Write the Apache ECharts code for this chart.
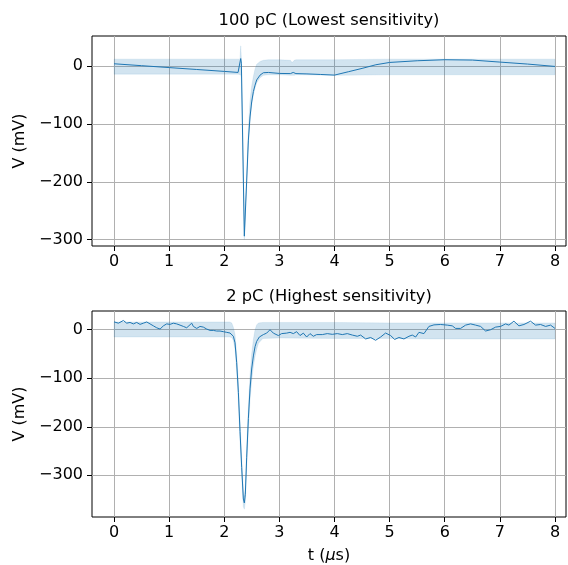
<!DOCTYPE html>
<html>
<head>
<meta charset="utf-8">
<script src="https://cdn.jsdelivr.net/npm/echarts@6/dist/echarts.min.js"></script>
<style>html,body{margin:0;padding:0;background:#fff}#c{width:568px;height:565px}</style>
</head>
<body>
<div id="c"></div>
<script>
// ---- Data ----
const xTicks = [0, 1, 2, 3, 4, 5, 6, 7, 8];
const yTicks = [0, -100, -200, -300];
const titleTop = '100 pC (Lowest sensitivity)';
const titleBot = '2 pC (Highest sensitivity)';

// Top panel (100 pC) trace, t in microseconds, V in mV
const tTop = [0, 0.5, 1, 1.5, 2, 2.25, 2.285, 2.298, 2.31, 2.364, 2.407, 2.437, 2.467, 2.497, 2.528, 2.558, 2.588, 2.649, 2.709, 2.8, 3.0, 3.2, 3.25, 3.3, 3.5, 3.75, 4.0, 4.25, 4.5, 4.75, 5.0, 5.5, 6.0, 6.5, 7.0, 7.5, 8.0];
const vTop = [4, 0.7, -2.6, -5.9, -9.2, -11, -13, 13, 5, -294, -197, -128, -88, -62, -44, -33, -24, -15.6, -11.5, -11, -12.7, -13, -11, -13, -13.5, -14.5, -15.6, -9.8, -4, 2.3, 6.3, 9.2, 11, 10.4, 6.9, 3.5, -0.6];

// Top panel band
const bandTopT = [0, 2.26, 2.285, 2.298, 2.31, 2.33, 2.364, 2.407, 2.437, 2.467, 2.497, 2.528, 2.558, 2.588, 2.649, 2.709, 2.8, 3.0, 3.2, 3.23, 3.27, 3.3, 4.0, 5.0, 6.0, 7.0, 8.0];
const bandTopUp = [12, 12, 12, 35, 14, -85, -288, -185, -110, -60, -35, -18, -5, 3, 8, 10, 11, 11, 10, 6, 10, 11, 11, 12, 12, 12, 12];
const bandTopLo = [-14, -14, -15, -15, -20, -120, -300, -205, -135, -95, -68, -50, -38, -29, -20, -16, -15, -15, -16, -16, -16, -15, -16, -15, -15, -15, -15];

// Bottom panel (2 pC) trace
const tBot = [0.0, 0.079, 0.169, 0.230, 0.290, 0.351, 0.411, 0.472, 0.532, 0.593, 0.653, 0.714, 0.774, 0.835, 0.895, 0.955, 1.016, 1.076, 1.137, 1.197, 1.258, 1.318, 1.409, 1.439, 1.500, 1.560, 1.620, 1.681, 1.742, 1.802, 1.862, 1.923, 1.983, 2.044, 2.104,
  2.135, 2.165, 2.195, 2.225, 2.256, 2.286, 2.316, 2.346, 2.364, 2.382, 2.406, 2.437, 2.467, 2.497, 2.528, 2.558, 2.588, 2.636, 2.709, 2.769, 2.830, 2.890, 2.981, 3.041, 3.132, 3.193, 3.253, 3.313, 3.374, 3.434, 3.495, 3.555, 3.616, 3.676,
  3.779, 3.869, 3.960, 4.051, 4.141, 4.232, 4.323, 4.414, 4.474, 4.565, 4.655, 4.746, 4.837, 4.927, 5.018, 5.091, 5.169, 5.260, 5.351, 5.411, 5.472, 5.532, 5.623, 5.713, 5.804, 5.925, 6.046, 6.137, 6.197, 6.288, 6.378, 6.469, 6.560, 6.651, 6.741, 6.832, 6.923, 7.013, 7.104, 7.164, 7.255, 7.346, 7.437, 7.557, 7.648, 7.739, 7.830, 7.920, 8.0];
const vBot = [16.2, 13.5, 19, 13.5, 15, 12, 15, 11, 13.5, 16, 12, 8, 4, 1.4, 8, 12, 11, 13.5, 12, 9.5, 6.8, 4, 13.5, 6.8, 2.7, 6.8, 5.4, 1.4, -1.4, -1.4, -2.7, -2.7, -4, -5.4, -6.8,
  -9, -13.5, -27, -68, -129, -210, -284, -349, -357, -339, -264, -183, -122, -81, -54, -35, -24, -15, -10, -7, 0, -7, -12, -8, -7, -5.4, -8, -4, -12, -7, -15, -8, -13.5, -10,
  -10, -8, -9.5, -8, -10, -8, -11, -13.5, -11, -19, -16, -21.7, -15, -6.8, -12, -20, -16, -19, -13.5, -11, -15, -5.4, -8, 6.8, 10, 10.8, 9.5, 8, 2.7, 2.7, 9.5, 12, 9.5, 6.8, -2.7, 0, 5.4, 6.8, 12, 9.5, 17.6, 8, 10.8, 17.6, 9.5, 10.8, 6.8, 9.5, 2.7];

// Bottom panel band
const bandBotT = [0, 2.10, 2.135, 2.165, 2.195, 2.225, 2.256, 2.286, 2.316, 2.346, 2.364, 2.382, 2.406, 2.437, 2.467, 2.497, 2.528, 2.558, 2.588, 2.62, 2.7, 3.0, 4.0, 5.0, 5.7, 6.0, 7.0, 8.0];
const bandBotUp = [16, 16, 14, 5, -10, -50, -110, -190, -265, -330, -345, -325, -245, -160, -95, -50, -20, 0, 10, 14, 15, 15, 15, 14, 14, 14, 14, 14];
const bandBotLo = [-15, -15, -16, -22, -40, -85, -150, -230, -300, -365, -370, -355, -285, -205, -145, -105, -75, -55, -40, -28, -18, -17, -18, -18, -19, -19, -19, -19];

// ---- Chart ----
const FONT = 'DejaVu Sans';
const LINE = '#1f77b4';
const FS = 16;
const chart = echarts.init(document.getElementById('c'), null, {renderer: 'canvas'});

const fmt = v => (v < 0 ? '\u2212' + Math.abs(v) : String(v));
const pairs = (T, V) => T.map((t, i) => [t, V[i]]);

function bandSeries(idx, T, U, L) {
  return {
    type: 'custom', xAxisIndex: idx, yAxisIndex: idx, silent: true, z: 1,
    data: [[T[0], U[0]]],
    renderItem: (params, api) => {
      const pts = [];
      for (let i = 0; i < T.length; i++) pts.push(api.coord([T[i], U[i]]));
      for (let i = T.length - 1; i >= 0; i--) pts.push(api.coord([T[i], L[i]]));
      return {type: 'polygon', shape: {points: pts}, style: {fill: 'rgba(31,119,180,0.2)', stroke: 'rgba(31,119,180,0.2)', lineWidth: 0.5}};
    }
  };
}

function xAxis(idx, withName) {
  const a = {
    gridIndex: idx, type: 'value', min: -0.4, max: 8.2, position: 'bottom',
    axisLine: {show: false, onZero: false},
    axisTick: {show: true, customValues: xTicks, length: 5, lineStyle: {color: '#000', width: 1}},
    axisLabel: {customValues: xTicks, margin: 8, fontSize: FS, color: '#000', fontFamily: FONT, formatter: fmt},
    splitLine: {show: true, lineStyle: {color: '#b0b0b0', width: 1}}
  };
  if (withName) {
    a.name = '{a|t (}{i|\u03bc}{a|s)}';
    a.nameLocation = 'middle';
    a.nameGap = 31;
    a.nameTextStyle = {rich: {a: {fontSize: FS, fontFamily: FONT, color: '#000'}, i: {fontSize: FS, fontFamily: FONT, fontStyle: 'italic', color: '#000'}}};
  }
  return a;
}

function yAxis(idx, mn, mx) {
  return {
    gridIndex: idx, type: 'value', min: mn, max: mx, position: 'left',
    name: 'V (mV)', nameLocation: 'middle', nameGap: 59,
    nameTextStyle: {fontSize: FS, fontFamily: FONT, color: '#000'},
    axisLine: {show: false, onZero: false},
    axisTick: {show: true, customValues: yTicks, length: 5, lineStyle: {color: '#000', width: 1}},
    axisLabel: {customValues: yTicks, margin: 9, fontSize: FS, color: '#000', fontFamily: FONT, formatter: fmt},
    splitLine: {show: true, lineStyle: {color: '#b0b0b0', width: 1}}
  };
}

const option = {
  animation: false,
  backgroundColor: '#fff',
  graphic: [
    {type: 'text', x: 329, y: 21, style: {text: titleTop, font: '16.3px "DejaVu Sans"', fill: '#000', textAlign: 'center', textVerticalAlign: 'middle'}},
    {type: 'text', x: 329, y: 297, style: {text: titleBot, font: '16.3px "DejaVu Sans"', fill: '#000', textAlign: 'center', textVerticalAlign: 'middle'}}
  ],
  grid: [
    {left: 92, top: 36, width: 474, height: 210, show: true, borderColor: '#000', borderWidth: 1, backgroundColor: 'transparent', containLabel: false},
    {left: 92, top: 311, width: 474, height: 209, show: true, borderColor: '#000', borderWidth: 1, backgroundColor: 'transparent', containLabel: false}
  ],
  xAxis: [xAxis(0, false), xAxis(1, true)],
  yAxis: [yAxis(0, -311, 52), yAxis(1, -386, 38.6)],
  series: [
    bandSeries(0, bandTopT, bandTopUp, bandTopLo),
    {type: 'line', xAxisIndex: 0, yAxisIndex: 0, data: pairs(tTop, vTop), showSymbol: false, symbol: 'none', z: 3, lineStyle: {color: LINE, width: 1}, itemStyle: {color: LINE}},
    bandSeries(1, bandBotT, bandBotUp, bandBotLo),
    {type: 'line', xAxisIndex: 1, yAxisIndex: 1, data: pairs(tBot, vBot), showSymbol: false, symbol: 'none', z: 3, lineStyle: {color: LINE, width: 1}, itemStyle: {color: LINE}}
  ]
};
chart.setOption(option);
</script>
</body>
</html>
